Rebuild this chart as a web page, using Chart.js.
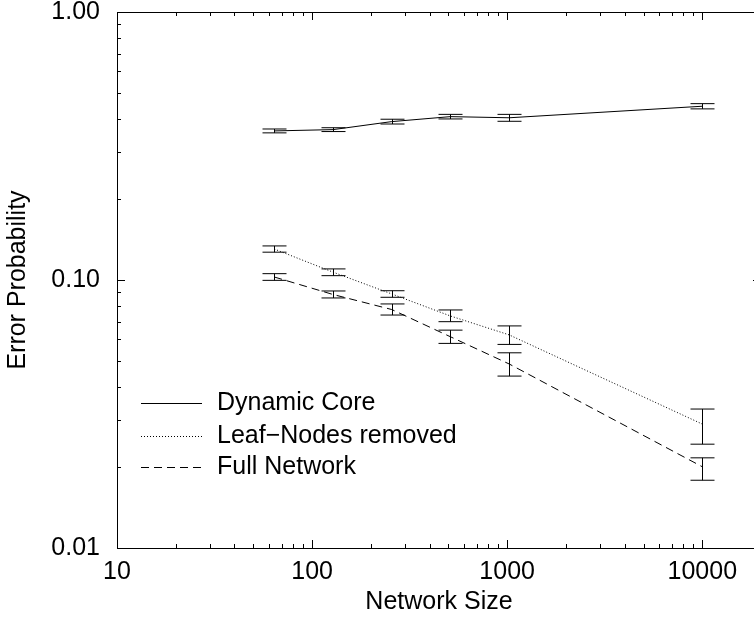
<!DOCTYPE html>
<html>
<head>
<meta charset="utf-8">
<script src="https://cdn.jsdelivr.net/npm/chart.js@4.4.1/dist/chart.umd.min.js"></script>
<style>
  html, body { margin: 0; padding: 0; background: #fff; overflow: hidden; }
  #wrap { width: 775px; height: 619px; }
</style>
</head>
<body>
<div id="wrap"><canvas id="error-chart" width="775" height="619"></canvas></div>
<script>
/* ============================================= */
/*                     Data                      */
/* ============================================= */

const networkSizes = [64, 128, 256, 512, 1024, 10000];

const coreValues = [0.360, 0.364, 0.390, 0.407, 0.403, 0.445];
const coreLow    = [0.354, 0.358, 0.382, 0.399, 0.391, 0.435];
const coreHigh   = [0.366, 0.370, 0.398, 0.415, 0.415, 0.455];

const leafValues = [0.1305, 0.107, 0.0887, 0.0734, 0.0624, 0.029];
const leafLow    = [0.127, 0.1038, 0.0862, 0.0699, 0.0575, 0.0244];
const leafHigh   = [0.134, 0.110, 0.0912, 0.0773, 0.0674, 0.033];

const fullValues = [0.1026, 0.0883, 0.0776, 0.0614, 0.0486, 0.0201];
const fullLow    = [0.0997, 0.0857, 0.074, 0.058, 0.0438, 0.0179];
const fullHigh   = [0.1056, 0.091, 0.0814, 0.065, 0.0535, 0.0217];

const xTickValues = [10, 100, 1000, 10000];
const xTickLabels = ['10', '100', '1000', '10000'];
const yTickValues = [0.01, 0.1, 1];
const yTickLabels = ['0.01', '0.10', '1.00'];

/* ============================================= */
/*                    Setup                      */
/* ============================================= */

const FONT = '"Liberation Sans", Arial, Helvetica, sans-serif';
Chart.defaults.font.family = FONT;
Chart.defaults.font.size = 25;
Chart.defaults.color = '#000';

function toPoints(values) {
    return networkSizes.map((x, i) => ({ x: x, y: values[i] }));
}

function labelFor(value, ticks, labels) {
    for (let i = 0; i < ticks.length; i++) {
        if (Math.abs(Math.log10(value) - Math.log10(ticks[i])) < 1e-6) return labels[i];
    }
    return '';
}

const errorData = [
    { low: coreLow, high: coreHigh },
    { low: leafLow, high: leafHigh },
    { low: fullLow, high: fullHigh }
];

// vertical error bars with caps
const errorBars = {
    id: 'errorBars',
    afterDatasetsDraw(chart) {
        const ctx = chart.ctx;
        const xs = chart.scales.x, ys = chart.scales.y;
        ctx.save();
        ctx.strokeStyle = '#000';
        ctx.lineWidth = 1;
        errorData.forEach(set => {
            networkSizes.forEach((n, i) => {
                const px = Math.round(xs.getPixelForValue(n)) + 0.5;
                const top = ys.getPixelForValue(set.high[i]);
                const bot = ys.getPixelForValue(set.low[i]);
                ctx.beginPath();
                ctx.moveTo(px, top); ctx.lineTo(px, bot);
                ctx.moveTo(px - 12, top); ctx.lineTo(px + 12, top);
                ctx.moveTo(px - 12, bot); ctx.lineTo(px + 12, bot);
                ctx.stroke();
            });
        });
        ctx.restore();
    }
};

// gnuplot style frame with inward ticks on all sides
const frameTicks = {
    id: 'frameTicks',
    afterDraw(chart) {
        const ctx = chart.ctx;
        const a = chart.chartArea;
        const xs = chart.scales.x, ys = chart.scales.y;
        ctx.save();
        ctx.strokeStyle = '#000';
        ctx.lineWidth = 1;
        ctx.strokeRect(Math.round(a.left) + 0.5, Math.round(a.top) + 0.5,
            Math.round(a.right - a.left), Math.round(a.bottom - a.top));
        ctx.beginPath();
        for (let e = 1; e <= 4; e++) {
            for (let m = 1; m <= 9; m++) {
                const v = m * Math.pow(10, e);
                if (v < xs.min || v > xs.max) continue;
                const len = m === 1 ? 8 : 4;
                const px = Math.round(xs.getPixelForValue(v)) + 0.5;
                ctx.moveTo(px, a.bottom); ctx.lineTo(px, a.bottom - len);
                ctx.moveTo(px, a.top); ctx.lineTo(px, a.top + len);
            }
        }
        for (let e = -2; e <= 0; e++) {
            for (let m = 1; m <= 9; m++) {
                const v = m * Math.pow(10, e);
                if (v < ys.min - 1e-9 || v > ys.max + 1e-9) continue;
                const len = m === 1 ? 8 : 4;
                const py = Math.round(ys.getPixelForValue(v)) + 0.5;
                ctx.moveTo(a.left, py); ctx.lineTo(a.left + len, py);
                ctx.moveTo(a.right, py); ctx.lineTo(a.right - len, py);
            }
        }
        ctx.stroke();
        ctx.restore();
    }
};

// legend inside the plot, lower left
const keyBox = {
    id: 'keyBox',
    afterDraw(chart) {
        const ctx = chart.ctx;
        const rows = [403, 436, 467];
        ctx.save();
        ctx.font = '25px ' + FONT;
        ctx.textAlign = 'left';
        ctx.textBaseline = 'middle';
        ctx.fillStyle = '#000';
        chart.data.datasets.forEach((ds, i) => {
            const y = rows[i] + 0.5;
            ctx.strokeStyle = '#000';
            ctx.lineWidth = 1;
            ctx.setLineDash(ds.borderDash || []);
            ctx.beginPath();
            ctx.moveTo(141, y); ctx.lineTo(202, y);
            ctx.stroke();
            ctx.setLineDash([]);
            ctx.fillText(ds.label, 217, rows[i]);
        });
        ctx.restore();
    }
};

/* ============================================= */
/*                    Chart                      */
/* ============================================= */

const errorCanvas = document.getElementById('error-chart');

const errorChart = new Chart(errorCanvas, {
    type: 'line',
    data: {
        datasets: [{
            label: 'Dynamic Core',
            data: toPoints(coreValues),
            borderColor: '#000',
            borderWidth: 1,
            pointRadius: 0
        }, {
            label: 'Leaf\u2212Nodes removed',
            data: toPoints(leafValues),
            borderColor: '#000',
            borderWidth: 1,
            borderDash: [1, 2],
            pointRadius: 0
        }, {
            label: 'Full Network',
            data: toPoints(fullValues),
            borderColor: '#000',
            borderWidth: 1,
            borderDash: [8, 5],
            pointRadius: 0
        }]
    },
    options: {
        responsive: false,
        animation: false,
        layout: { padding: { top: 12, right: 14, left: 0, bottom: 0 } },
        plugins: {
            legend: { display: false },
            tooltip: { enabled: false }
        },
        scales: {
            x: {
                type: 'logarithmic',
                min: 10,
                max: 20000,
                grid: { display: false, drawTicks: false },
                border: { display: false },
                ticks: {
                    autoSkip: false,
                    maxRotation: 0,
                    padding: 9,
                    callback: v => labelFor(v, xTickValues, xTickLabels)
                },
                title: { display: true, text: 'Network Size', padding: { top: 0, bottom: 2 } },
                afterFit: scale => {
                    scale.height = 71;
                    scale.paddingLeft = 0;
                    scale.paddingRight = 0;
                }
            },
            y: {
                type: 'logarithmic',
                min: 0.01,
                max: 1,
                grid: { display: false, drawTicks: false },
                border: { display: false },
                ticks: {
                    autoSkip: false,
                    padding: 17,
                    callback: v => labelFor(v, yTickValues, yTickLabels)
                },
                title: { display: true, text: 'Error Probability', padding: { top: 3, bottom: 0 } },
                afterFit: scale => {
                    scale.width = 117;
                    scale.paddingTop = 0;
                    scale.paddingBottom = 0;
                }
            }
        }
    },
    plugins: [errorBars, frameTicks, keyBox]
});
</script>
</body>
</html>
